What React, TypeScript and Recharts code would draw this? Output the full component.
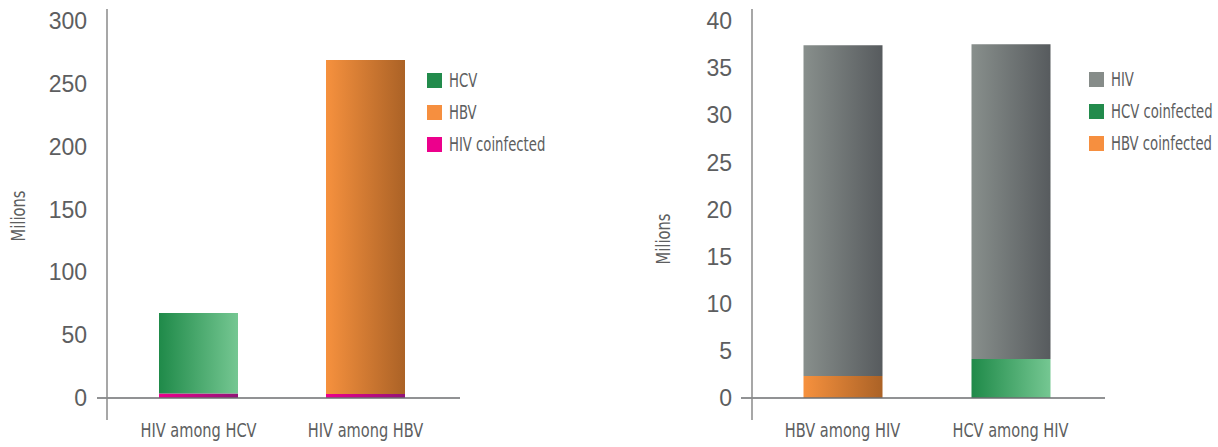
import React from 'react';
import { BarChart, Bar, XAxis, YAxis, Legend } from 'recharts';

// ---------- DATA ----------
const leftCategories = ['HIV among HCV', 'HIV among HBV'];
const leftHivCoinfected = [3.5, 3.2];
const leftHcv = [64.1, 0];
const leftHbv = [0, 265.8];
const leftTicks = [0, 50, 100, 150, 200, 250, 300];

const rightCategories = ['HBV among HIV', 'HCV among HIV'];
const rightHbvCoinfected = [2.33, 0];
const rightHcvCoinfected = [0, 4.14];
const rightHiv = [35.1, 33.4];
const rightTicks = [0, 5, 10, 15, 20, 25, 30, 35, 40];

const leftData = leftCategories.map((name, i) => ({
  name,
  hivCo: leftHivCoinfected[i],
  hcv: leftHcv[i],
  hbv: leftHbv[i],
}));

const rightData = rightCategories.map((name, i) => ({
  name,
  hbvCo: rightHbvCoinfected[i],
  hcvCo: rightHcvCoinfected[i],
  hiv: rightHiv[i],
}));

// ---------- STYLE ----------
const TEXT = '#5d5e60';
const TICK_FONT = "'Liberation Sans', Arial, sans-serif";
const COND_FONT = "'DejaVu Sans Condensed', 'Liberation Sans Narrow', sans-serif";
const COND_SIZE = 20;
const TICK_SCALE = 0.81;
const LEGEND_SCALE = 0.735;
const LABEL_SCALE = 0.82;

const COLORS: Record<string, string> = {
  HCV: '#228b4c',
  HBV: '#f68f3f',
  'HIV coinfected': '#ec008c',
  HIV: '#868c89',
  'HCV coinfected': '#228b4c',
  'HBV coinfected': '#f68f3f',
};

const Gradients = () => (
  <defs>
    <linearGradient id="gGreen" x1="0" y1="0" x2="1" y2="0">
      <stop offset="0%" stopColor="#1f8a49" />
      <stop offset="100%" stopColor="#75c792" />
    </linearGradient>
    <linearGradient id="gOrange" x1="0" y1="0" x2="1" y2="0">
      <stop offset="0%" stopColor="#f6913e" />
      <stop offset="100%" stopColor="#ab6226" />
    </linearGradient>
    <linearGradient id="gPink" x1="0" y1="0" x2="1" y2="0">
      <stop offset="0%" stopColor="#ec008c" />
      <stop offset="100%" stopColor="#921478" />
    </linearGradient>
    <linearGradient id="gGray" x1="0" y1="0" x2="1" y2="0">
      <stop offset="0%" stopColor="#888f8c" />
      <stop offset="100%" stopColor="#575b5e" />
    </linearGradient>
  </defs>
);

const makeLegend = (names: string[]) => () => (
  <div style={{ display: 'flex', flexDirection: 'column' }}>
    {names.map((n) => (
      <div key={n} style={{ display: 'flex', alignItems: 'center', height: 32, whiteSpace: 'nowrap' }}>
        <span style={{ flex: 'none', display: 'inline-block', width: 15, height: 15, background: COLORS[n], marginRight: 7 }} />
        <span
          style={{
            flex: 'none',
            display: 'inline-block',
            fontFamily: COND_FONT,
            fontSize: COND_SIZE,
            color: TEXT,
            transform: `scaleX(${LEGEND_SCALE})`,
            transformOrigin: 'left center',
            lineHeight: '32px',
          }}
        >
          {n}
        </span>
      </div>
    ))}
  </div>
);

const makeYLabel = (dx: number, dy: number) => (props: any) => {
  const vb = props.viewBox || { x: 0, y: 0, width: 0, height: 0 };
  const x = vb.x + dx;
  const y = vb.y + vb.height / 2 + dy;
  return (
    <g transform={`translate(${x},${y}) rotate(-90)`}>
      <text
        x={0}
        y={0}
        transform={`scale(${LABEL_SCALE},1)`}
        textAnchor="middle"
        dominantBaseline="central"
        fill={TEXT}
        style={{ fontFamily: COND_FONT, fontSize: COND_SIZE }}
      >
        Milions
      </text>
    </g>
  );
};

const CondTick = (props: any) => {
  const { x, y, payload } = props;
  return (
    <g transform={`translate(${x},${y})`}>
      <text
        x={0}
        y={0}
        dy="0.71em"
        transform={`scale(${TICK_SCALE},1)`}
        textAnchor="middle"
        fill={TEXT}
        style={{ fontFamily: COND_FONT, fontSize: COND_SIZE }}
      >
        {payload.value}
      </text>
    </g>
  );
};

const tickStyle = { fill: TEXT, fontFamily: TICK_FONT, fontSize: 23 };

export default function App() {
  return (
    <div style={{ position: 'absolute', left: 0, top: 0, width: 1218, height: 447, background: '#fff', overflow: 'hidden' }}>
      <div style={{ position: 'absolute', left: 0, top: 0 }}>
        <BarChart
          width={610}
          height={447}
          data={leftData}
          margin={{ top: 21, right: 150, bottom: 0, left: 0 }}
          barSize={79}
        >
          <Gradients />
          <XAxis
            dataKey="name"
            height={49}
            padding={{ left: 18, right: 11 }}
            tickLine={false}
            tickSize={0}
            tickMargin={25}
            axisLine={{ stroke: '#6d6e70', strokeWidth: 1.5 }}
            tick={<CondTick />}
            interval={0}
          />
          <YAxis
            width={97}
            domain={[0, 300]}
            ticks={leftTicks}
            axisLine={false}
            tickLine={false}
            tickSize={0}
            tickMargin={10}
            tick={tickStyle}
            label={{ content: makeYLabel(18, 6.5) }}
          />
          <Legend
            layout="vertical"
            align="center"
            verticalAlign="middle"
            wrapperStyle={{ left: 427, top: 64, width: 170 }}
            content={makeLegend(['HCV', 'HBV', 'HIV coinfected'])}
          />
          <Bar dataKey="hivCo" name="HIV coinfected" stackId="a" fill="url(#gPink)" isAnimationActive={false} />
          <Bar dataKey="hcv" name="HCV" stackId="a" fill="url(#gGreen)" isAnimationActive={false} />
          <Bar dataKey="hbv" name="HBV" stackId="a" fill="url(#gOrange)" isAnimationActive={false} />
        </BarChart>
      </div>
      <div style={{ position: 'absolute', left: 620, top: 0 }}>
        <BarChart
          width={598}
          height={447}
          data={rightData}
          margin={{ top: 21, right: 113, bottom: 0, left: 0 }}
          barSize={79}
        >
          <Gradients />
          <XAxis
            dataKey="name"
            height={49}
            padding={{ left: 17.5, right: 10.5 }}
            tickLine={false}
            tickSize={0}
            tickMargin={25}
            axisLine={{ stroke: '#6d6e70', strokeWidth: 1.5 }}
            tick={<CondTick />}
            interval={0}
          />
          <YAxis
            width={121}
            domain={[0, 40]}
            ticks={rightTicks}
            axisLine={false}
            tickLine={false}
            tickSize={0}
            tickMargin={9}
            tick={tickStyle}
            label={{ content: makeYLabel(43, 29.5) }}
          />
          <Legend
            layout="vertical"
            align="center"
            verticalAlign="middle"
            wrapperStyle={{ left: 469, top: 63, width: 129 }}
            content={makeLegend(['HIV', 'HCV coinfected', 'HBV coinfected'])}
          />
          <Bar dataKey="hbvCo" name="HBV coinfected" stackId="a" fill="url(#gOrange)" isAnimationActive={false} />
          <Bar dataKey="hcvCo" name="HCV coinfected" stackId="a" fill="url(#gGreen)" isAnimationActive={false} />
          <Bar dataKey="hiv" name="HIV" stackId="a" fill="url(#gGray)" isAnimationActive={false} />
        </BarChart>
      </div>
      <svg
        width={1218}
        height={447}
        style={{ position: 'absolute', left: 0, top: 0, pointerEvents: 'none' }}
      >
        <line x1={107} y1={9} x2={107} y2={420} stroke="#8a8a8a" strokeWidth={1.5} />
        <line x1={752} y1={9} x2={752} y2={420} stroke="#8a8a8a" strokeWidth={1.5} />
      </svg>
    </div>
  );
}
